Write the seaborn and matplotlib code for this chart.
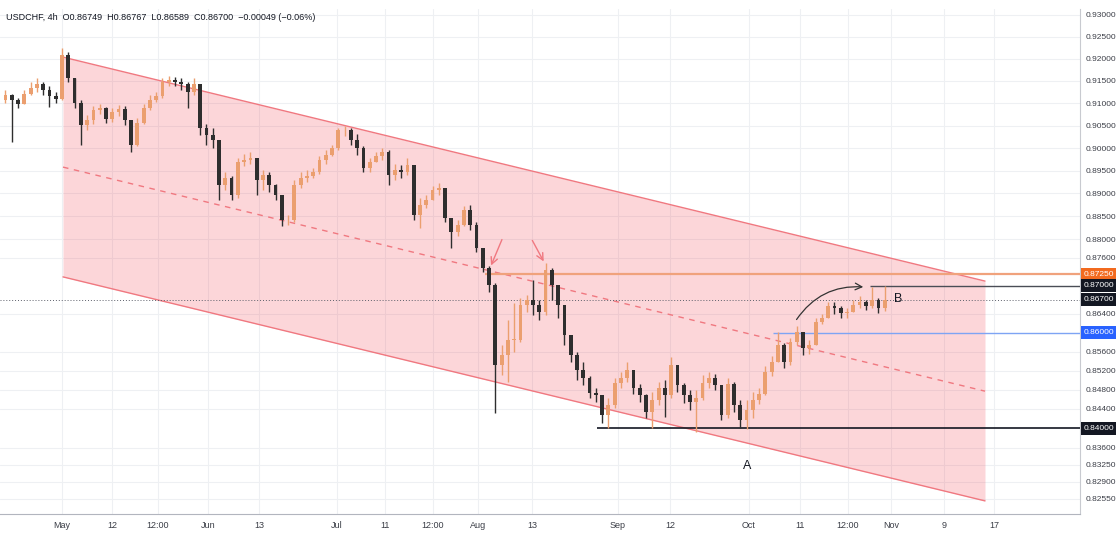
import numpy as np
import pandas as pd
import matplotlib
matplotlib.use("Agg")
import matplotlib.pyplot as plt
import seaborn as sns
from matplotlib.ticker import FixedLocator, FuncFormatter, NullLocator
from matplotlib.transforms import blended_transform_factory

# ---------------- data (daily OHLC) ----------------
first_open = 0.9107
closes = [
    0.9119, 0.9107, 0.9098, 0.9121, 0.9134, 0.9143, 0.9130, 0.9116, 0.9110, 0.9209,
    0.9157, 0.9101, 0.9051, 0.9063, 0.9085, 0.9089, 0.9065, 0.9080, 0.9087, 0.9063,
    0.9007, 0.9056, 0.9089, 0.9107, 0.9116, 0.9148, 0.9152, 0.9148, 0.9143, 0.9125,
    0.9143, 0.9045, 0.9029, 0.9018, 0.8919, 0.8934, 0.8897, 0.8969, 0.8974, 0.8978,
    0.8930, 0.8941, 0.8919, 0.8897, 0.8842, 0.8842, 0.8919, 0.8934, 0.8938, 0.8947,
    0.8974, 0.8985, 0.9000, 0.9040, 0.9040, 0.9018, 0.9000, 0.8956, 0.8969, 0.8983,
    0.8991, 0.8941, 0.8952, 0.8947, 0.8963, 0.8853, 0.8875, 0.8886, 0.8908, 0.8912,
    0.8847, 0.8816, 0.8831, 0.8864, 0.8831, 0.8781, 0.8738, 0.8702, 0.8532, 0.8553,
    0.8585, 0.8585, 0.8659, 0.8670, 0.8659, 0.8644, 0.8734, 0.8702, 0.8659, 0.8595,
    0.8553, 0.8521, 0.8505, 0.8473, 0.8469, 0.8427, 0.8448, 0.8494, 0.8505, 0.8521,
    0.8484, 0.8469, 0.8434, 0.8459, 0.8484, 0.8469, 0.8532, 0.8490, 0.8469, 0.8454,
    0.8463, 0.8494, 0.8505, 0.8490, 0.8427, 0.8492, 0.8448, 0.8417, 0.8438, 0.8459,
    0.8471, 0.8517, 0.8538, 0.8574, 0.8538, 0.8580, 0.8601, 0.8568, 0.8574, 0.8623,
    0.8631, 0.8657, 0.8652, 0.8642, 0.8644, 0.8659, 0.8665, 0.8657, 0.8670, 0.8652,
    0.8670,
]
highs = [
    0.9130, 0.9121, 0.9112, 0.9130, 0.9148, 0.9157, 0.9148, 0.9139, 0.9125, 0.9225,
    0.9216, 0.9157, 0.9107, 0.9074, 0.9094, 0.9098, 0.9092, 0.9089, 0.9096, 0.9094,
    0.9063, 0.9067, 0.9098, 0.9119, 0.9125, 0.9157, 0.9161, 0.9159, 0.9157, 0.9148,
    0.9157, 0.9143, 0.9054, 0.9045, 0.9018, 0.8947, 0.8938, 0.8978, 0.8987, 0.8991,
    0.8978, 0.8952, 0.8947, 0.8921, 0.8897, 0.8853, 0.8930, 0.8947, 0.8952, 0.8956,
    0.8983, 0.8996, 0.9007, 0.9045, 0.9049, 0.9045, 0.9031, 0.9005, 0.8978, 0.8991,
    0.9000, 0.8996, 0.8965, 0.8963, 0.8978, 0.8963, 0.8890, 0.8897, 0.8916, 0.8923,
    0.8912, 0.8847, 0.8842, 0.8873, 0.8875, 0.8838, 0.8781, 0.8743, 0.8706, 0.8574,
    0.8627, 0.8663, 0.8674, 0.8680, 0.8712, 0.8670, 0.8749, 0.8738, 0.8702, 0.8659,
    0.8595, 0.8559, 0.8538, 0.8509, 0.8484, 0.8469, 0.8463, 0.8505, 0.8517, 0.8538,
    0.8521, 0.8492, 0.8471, 0.8475, 0.8496, 0.8500, 0.8549, 0.8532, 0.8494, 0.8480,
    0.8480, 0.8511, 0.8517, 0.8513, 0.8490, 0.8505, 0.8496, 0.8459, 0.8459, 0.8475,
    0.8484, 0.8530, 0.8551, 0.8601, 0.8578, 0.8589, 0.8614, 0.8601, 0.8585, 0.8631,
    0.8640, 0.8665, 0.8665, 0.8657, 0.8652, 0.8670, 0.8678, 0.8670, 0.8697, 0.8674,
    0.8700,
]
lows = [
    0.9101, 0.9014, 0.9089, 0.9098, 0.9119, 0.9125, 0.9119, 0.9092, 0.9101, 0.9107,
    0.9148, 0.9089, 0.9007, 0.9040, 0.9054, 0.9076, 0.9056, 0.9058, 0.9072, 0.9051,
    0.8991, 0.9005, 0.9054, 0.9085, 0.9103, 0.9112, 0.9139, 0.9139, 0.9130, 0.9089,
    0.9119, 0.9029, 0.9007, 0.9000, 0.8886, 0.8908, 0.8886, 0.8890, 0.8960, 0.8965,
    0.8897, 0.8908, 0.8903, 0.8886, 0.8829, 0.8831, 0.8838, 0.8912, 0.8925, 0.8934,
    0.8943, 0.8965, 0.8983, 0.8996, 0.9027, 0.9007, 0.8985, 0.8947, 0.8947, 0.8969,
    0.8974, 0.8919, 0.8930, 0.8934, 0.8941, 0.8842, 0.8825, 0.8868, 0.8886, 0.8897,
    0.8838, 0.8781, 0.8807, 0.8829, 0.8820, 0.8773, 0.8730, 0.8687, 0.8432, 0.8511,
    0.8496, 0.8559, 0.8580, 0.8644, 0.8638, 0.8627, 0.8638, 0.8670, 0.8631, 0.8574,
    0.8538, 0.8500, 0.8490, 0.8463, 0.8454, 0.8411, 0.8400, 0.8442, 0.8484, 0.8496,
    0.8471, 0.8454, 0.8421, 0.8400, 0.8448, 0.8423, 0.8463, 0.8475, 0.8452, 0.8438,
    0.8393, 0.8459, 0.8484, 0.8480, 0.8417, 0.8421, 0.8434, 0.8400, 0.8398, 0.8421,
    0.8450, 0.8469, 0.8509, 0.8538, 0.8525, 0.8532, 0.8574, 0.8553, 0.8555, 0.8574,
    0.8618, 0.8631, 0.8640, 0.8631, 0.8631, 0.8644, 0.8652, 0.8648, 0.8652, 0.8642,
    0.8645,
]

x_tick_labels = ["May", "12", "12:00", "Jun", "13", "Jul", "11", "12:00", "Aug", "13",
                 "Sep", "12", "Oct", "11", "12:00", "Nov", "9", "17"]
price_ticks = [0.93, 0.925, 0.92, 0.915, 0.91, 0.905, 0.90, 0.895, 0.89, 0.885, 0.88,
               0.876, 0.864, 0.856, 0.852, 0.848, 0.844, 0.836, 0.8325,
               0.829, 0.8255]

# regression channel (start / end)
channel_upper = [0.9204, 0.8710]
channel_mid = [0.8958, 0.8477]
channel_lower = [0.8719, 0.8251]

# horizontal levels
levels = [0.8725, 0.8700, 0.8600, 0.8400]
level_labels_bg = ["#f26a1f", "#131722", "#2962ff", "#131722"]
last_price = 0.8670
header = "USDCHF, 4h  O0.86749  H0.86767  L0.86589  C0.86700  \u22120.00049 (\u22120.06%)"

# ---------------- layout ----------------
W, H = 1116, 534
sns.set_theme(style="white")
plt.rcParams["font.family"] = ["Liberation Sans", "DejaVu Sans"]

fig = plt.figure(figsize=(W / 100, H / 100), dpi=100)
fig.patch.set_facecolor("white")
ax = fig.add_axes([0, 20 / H, 1080 / W, (514 - 9) / H])

def px_to_idx(px):
    return (px - 5.5) / 6.28

x_tick_pos = [px_to_idx(p) for p in [62, 112, 158, 208, 259, 337, 385, 433, 478, 532,
                                      618, 670, 749, 800, 848, 891, 944, 994]]
ch_x = [px_to_idx(63), px_to_idx(985)]
level_start = [px_to_idx(485), px_to_idx(870), px_to_idx(773), px_to_idx(597)]
x_left, x_right = px_to_idx(0), px_to_idx(1080)

df = pd.DataFrame({"close": closes, "high": highs, "low": lows})
df["open"] = [first_open] + closes[:-1]
df["x"] = np.arange(len(df))
up_col, dn_col = "#eb9f6f", "#2e2e2e"
cols = np.where(df["close"] >= df["open"], up_col, dn_col)

ax.set_yscale("log")
ax.set_xlim(x_left, x_right)
ax.set_ylim(0.82244, 0.93137)

# channel
ax.fill_between(ch_x, channel_lower, channel_upper, color="#f23645", alpha=0.2, lw=0, zorder=1)
ax.plot(ch_x, channel_upper, color="#f07880", lw=1, zorder=2)
ax.plot(ch_x, channel_lower, color="#f07880", lw=1, zorder=2)
ax.plot(ch_x, channel_mid, color="#f07880", lw=1, ls=(0, (4, 4)), zorder=2)

# levels
lvl_colors = ["#f0a27c", "#4a4d56", "#7ea4f4", "#131722"]
lvl_widths = [1.6, 1.0, 1.0, 1.2]
for lv, st, c, w in zip(levels, level_start, lvl_colors, lvl_widths):
    ax.hlines(lv, st, x_right, color=c, lw=w, zorder=3)
ax.axhline(last_price, color="#5d606b", lw=0.7, ls=(0, (1, 2)), zorder=3)

# candles
ax.vlines(df["x"], df["low"], df["high"], colors=cols, lw=1.0, zorder=4)
body_bottom = np.minimum(df["open"], df["close"])
body_h = np.maximum((df["close"] - df["open"]).abs(), 0.00008)
ax.bar(df["x"], body_h, bottom=body_bottom, width=0.6, color=cols, linewidth=0, zorder=5)

# annotations
arrow_pink = dict(arrowstyle="->", color="#f07880", lw=1)
ax.annotate("", xy=(px_to_idx(490), 0.8738), xytext=(px_to_idx(503), 0.8805), arrowprops=arrow_pink, zorder=6)
ax.annotate("", xy=(px_to_idx(545), 0.8747), xytext=(px_to_idx(531), 0.8803), arrowprops=arrow_pink, zorder=6)
ax.annotate("", xy=(px_to_idx(866), 0.8697), xytext=(px_to_idx(795), 0.8623),
            arrowprops=dict(arrowstyle="->", color="#333333", lw=0.9,
                            connectionstyle="arc3,rad=-0.3"), zorder=6)
ax.text(px_to_idx(747), 0.8322, "A", fontsize=9, ha="center", va="center", color="#131722", zorder=7)
ax.text(px_to_idx(898), 0.8672, "B", fontsize=9, ha="center", va="center", color="#131722", zorder=7)

# axes styling
ax.yaxis.tick_right()
ax.yaxis.set_major_locator(FixedLocator(price_ticks))
ax.yaxis.set_minor_locator(NullLocator())
ax.yaxis.set_major_formatter(FuncFormatter(lambda v, _: f"{v:.5f}"))
ax.set_xticks(x_tick_pos)
ax.set_xticklabels(x_tick_labels)
ax.tick_params(axis="y", length=0, pad=4, labelsize=6.0, labelcolor="#3b3e47")
ax.tick_params(axis="x", length=0, pad=5, labelsize=6.5, labelcolor="#3b3e47")
ax.grid(True, color="#eef0f3", lw=0.8, zorder=0)
ax.set_axisbelow(True)
for s in ["top", "left"]:
    ax.spines[s].set_visible(False)
ax.spines["right"].set_color("#c8cad0")
ax.spines["right"].set_linewidth(0.8)
ax.spines["bottom"].set_color("#b2b5be")
ax.spines["bottom"].set_linewidth(0.8)

# highlighted price labels on the right scale
trans = blended_transform_factory(ax.transAxes, ax.transData)
box_vals = [0.8725, 0.8700, last_price, 0.8600, 0.8400]
box_cols = [level_labels_bg[0], level_labels_bg[1], "#131722", level_labels_bg[2], level_labels_bg[3]]
for v, c in zip(box_vals, box_cols):
    ax.text(1.0 + 4 / 1080, v, f"{v:.5f}", transform=trans, fontsize=6.0, color="white",
            ha="left", va="center", clip_on=False, zorder=10,
            bbox=dict(boxstyle="square,pad=0.35", facecolor=c, edgecolor="none"))

fig.text(6 / W, 1 - 18 / H, header, fontsize=6.5, color="#131722", ha="left", va="center")

fig.savefig("out.png", dpi=100, facecolor="white")
